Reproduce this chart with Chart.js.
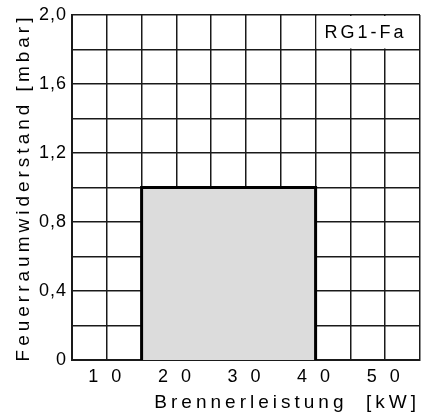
<!DOCTYPE html>
<html>
<head>
<meta charset="utf-8">
<script src="https://cdn.jsdelivr.net/npm/chart.js@4.4.0/dist/chart.umd.min.js"></script>
<style>
  html, body { margin: 0; padding: 0; background: #fff; }
  #wrap { width: 421px; height: 414px; }
</style>
</head>
<body>
<div id="wrap"><canvas id="chart"></canvas></div>
<script>
// Achsen
const xRange = [5, 55];
const xStep = 5;
const xLabelEvery = 10;
const yRange = [0, 2.0];
const yStep = 0.2;
const yLabelEvery = 0.4;

// Arbeitsfeld (Leistung kW / Widerstand mbar)
const fieldX = [15, 15, 40, 40];
const fieldY = [0, 1.0, 1.0, 0];
const fieldBaseX = [15, 40];
const fieldBaseY = [0, 0];

// Typenbezeichnung, oben rechts
const typeLabel = "RG1-Fa";
const typeBoxX = [40, 55];
const typeBoxY = [1.8, 2.0];

const xTitle = "Brennerleistung  [kW]";
const yTitle = "Feuerraumwiderstand [mbar]";

const FONT = "'Liberation Sans', Arial, Helvetica, sans-serif";
const INK = "#1a1a1a";

// Sperrschrift je nach Element
const spacing = { x: { labels: "4px", title: "4px" }, y: { labels: "1px", title: "4px" } };

function wrapSpacing(scale, fn, sp) {
  const orig = scale[fn];
  scale[fn] = function (...args) {
    const c = this.ctx;
    const prev = c.letterSpacing;
    c.letterSpacing = sp;
    orig.apply(this, args);
    c.letterSpacing = prev;
  };
}

const spacingPlugin = {
  id: "spacing",
  beforeLayout(chart) { chart.ctx.letterSpacing = "4px"; },
  beforeDraw(chart) {
    chart.ctx.letterSpacing = "4px";
    for (const id of ["x", "y"]) {
      const s = chart.scales[id];
      if (s && !s._spaced) {
        wrapSpacing(s, "drawLabels", spacing[id].labels);
        wrapSpacing(s, "drawTitle", spacing[id].title);
        s._spaced = true;
      }
    }
  }
};

// weißes Kästchen mit Typenbezeichnung
const typeBoxPlugin = {
  id: "typeBox",
  afterDraw(chart) {
    const { ctx, scales } = chart;
    const x0 = scales.x.getPixelForValue(typeBoxX[0]);
    const x1 = scales.x.getPixelForValue(typeBoxX[1]);
    const y0 = scales.y.getPixelForValue(typeBoxY[1]);
    const y1 = scales.y.getPixelForValue(typeBoxY[0]);
    ctx.save();
    ctx.fillStyle = "#fff";
    ctx.fillRect(x0 + 1, y0 + 1, x1 - x0 - 2, y1 - y0 - 2);
    ctx.fillStyle = "#000";
    ctx.font = "18px " + FONT;
    ctx.letterSpacing = "3px";
    ctx.textAlign = "left";
    ctx.textBaseline = "middle";
    ctx.fillText(typeLabel, x0 + 9, (y0 + y1) / 2 + 1);
    ctx.restore();
  }
};

const toPts = (xs, ys) => xs.map((x, i) => ({ x, y: ys[i] }));

new Chart(document.getElementById("chart"), {
  type: "line",
  data: {
    datasets: [{
      data: toPts(fieldX, fieldY),
      borderColor: "#000",
      borderWidth: 3,
      backgroundColor: "#dcdcdc",
      fill: "origin",
      pointRadius: 0,
      tension: 0
    }, {
      data: toPts(fieldBaseX, fieldBaseY),
      borderColor: "#000",
      borderWidth: 3,
      fill: false,
      pointRadius: 0
    }]
  },
  options: {
    responsive: true,
    maintainAspectRatio: false,
    animation: false,
    layout: { padding: { top: 15, right: 1, left: 0, bottom: 0 } },
    plugins: { legend: { display: false }, tooltip: { enabled: false } },
    scales: {
      x: {
        type: "linear",
        min: xRange[0], max: xRange[1],
        z: 1,
        afterFit(s) { s.height = 54; s.paddingLeft = 0; s.paddingRight = 0; },
        grid: { color: INK, lineWidth: 1.5, drawTicks: false },
        border: { color: INK, width: 2 },
        ticks: {
          stepSize: xStep,
          autoSkip: false,
          maxRotation: 0,
          padding: 6,
          color: "#000",
          font: { family: FONT, size: 18 },
          callback: v => (v % xLabelEvery === 0 ? String(v).split("").join(" ") : "")
        },
        title: {
          display: true,
          text: xTitle,
          align: "end",
          color: "#000",
          font: { family: FONT, size: 19 },
          padding: { top: 0, bottom: 0 }
        }
      },
      y: {
        type: "linear",
        min: yRange[0], max: yRange[1],
        z: 1,
        afterFit(s) { s.width = 72; s.paddingTop = 0; s.paddingBottom = 0; },
        grid: { color: INK, lineWidth: 1.5, drawTicks: false },
        border: { color: INK, width: 2 },
        ticks: {
          stepSize: yStep,
          autoSkip: false,
          padding: 5,
          color: "#000",
          font: { family: FONT, size: 18 },
          callback: v => {
            const k = Math.round(v * 10);
            if (k % Math.round(yLabelEvery * 10) !== 0) return "";
            return k === 0 ? "0" : (k / 10).toFixed(1).replace(".", ",");
          }
        },
        title: {
          display: true,
          text: yTitle,
          color: "#000",
          font: { family: FONT, size: 19 },
          padding: { top: 12, bottom: 0 }
        }
      }
    }
  },
  plugins: [spacingPlugin, typeBoxPlugin]
});
</script>
</body>
</html>
